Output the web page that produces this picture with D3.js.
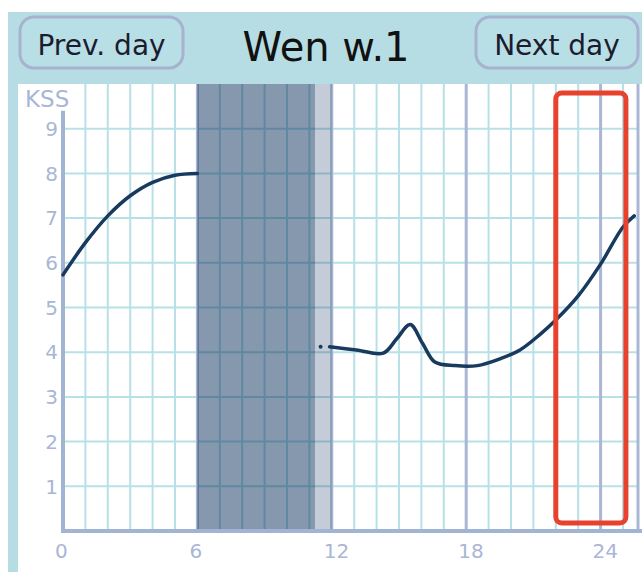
<!DOCTYPE html>
<html>
<head>
<meta charset="utf-8">
<script src="https://cdn.jsdelivr.net/npm/d3@7"></script>
<style>
    body { margin: 0; background: #fff; }
    svg { display: block; font-family: "DejaVu Sans", Verdana, sans-serif; }
    .grid { stroke: #b8e1e7; stroke-width: 2; }
    .grid-major { stroke: #a9b7d5; stroke-width: 3; }
    .tick-label { fill: #a9b6d6; font-size: 20px; }
</style>
</head>
<body>
<div id="chart"></div>
<script>
// KSS before sleep
var hoursA = [0, 1, 2, 3, 4, 5, 6];
var kssA = [5.73, 6.45, 7.05, 7.5, 7.8, 7.96, 8.0];

// KSS after waking
var hoursB = [11.9, 13.1, 14.3, 14.9, 15.5, 16.05, 16.6, 17.5, 18.5, 19.5, 20.4, 21.3, 22.0, 23.0, 24.0, 25.0, 25.5];
var kssB = [4.12, 4.05, 3.98, 4.3, 4.62, 4.2, 3.78, 3.70, 3.70, 3.85, 4.05, 4.40, 4.72, 5.26, 5.97, 6.8, 7.05];

// single point right after sleep
var wakeDot = [11.5, 4.12];

var sleepSpan = [6, 11.25];
var inertiaSpan = [11.25, 12];
var windowSpan = [22.0, 25.13];
var windowKss = [0.18, 9.8];

var xTicks = [0, 6, 12, 18, 24];
var yTicks = [1, 2, 3, 4, 5, 6, 7, 8, 9];
var hourLines = d3.range(1, 26);

var title = 'Wen w.1';
var prevLabel = 'Prev. day';
var nextLabel = 'Next day';
var yLabel = 'KSS';


function main(domSelector) {
    var width = 642;
    var height = 572;

    var svg = d3.select(domSelector).append('svg')
        .attr('width', width)
        .attr('height', height);

    var xScale = d3.scaleLinear().domain([0, 25.67]).range([63, 638]);
    var yScale = d3.scaleLinear().domain([0, 10]).range([531, 84]);

    // frame
    svg.append('rect')
        .attr('x', 8).attr('y', 12)
        .attr('width', width - 8).attr('height', 72)
        .attr('fill', '#b5dde3');
    svg.append('rect')
        .attr('x', 8).attr('y', 12)
        .attr('width', 10).attr('height', height - 12)
        .attr('fill', '#b5dde3');

    // header buttons
    var buttons = [
        {label: prevLabel, x: 20, w: 163},
        {label: nextLabel, x: 476, w: 162}
    ];
    var btn = svg.selectAll('g.button')
        .data(buttons)
        .enter()
        .append('g')
        .attr('class', 'button');
    btn.append('rect')
        .attr('x', function (d) { return d.x; })
        .attr('y', 17)
        .attr('width', function (d) { return d.w; })
        .attr('height', 51)
        .attr('rx', 14)
        .attr('fill', '#b8dfe5')
        .attr('stroke', '#a6b2d0')
        .attr('stroke-width', 3);
    btn.append('text')
        .attr('x', function (d) { return d.x + d.w / 2; })
        .attr('y', 55)
        .attr('text-anchor', 'middle')
        .attr('font-size', '28px')
        .attr('fill', '#1c1c30')
        .text(function (d) { return d.label; });

    svg.append('text')
        .attr('x', 326)
        .attr('y', 61)
        .attr('text-anchor', 'middle')
        .attr('font-size', '40px')
        .attr('fill', '#111')
        .text(title);

    // grid
    svg.selectAll('line.hgrid')
        .data(yTicks)
        .enter()
        .append('line')
        .attr('class', 'grid')
        .attr('x1', xScale(0)).attr('x2', xScale.range()[1])
        .attr('y1', function (d) { return yScale(d); })
        .attr('y2', function (d) { return yScale(d); });

    svg.selectAll('line.vgrid')
        .data(hourLines)
        .enter()
        .append('line')
        .attr('class', function (d) { return d % 6 === 0 ? 'grid-major' : 'grid'; })
        .attr('x1', function (d) { return xScale(d); })
        .attr('x2', function (d) { return xScale(d); })
        .attr('y1', yScale(10)).attr('y2', yScale(0));

    svg.append('line')
        .attr('class', 'grid-major')
        .attr('x1', xScale.range()[1]).attr('x2', xScale.range()[1])
        .attr('y1', yScale(10)).attr('y2', yScale(0));

    // sleep shading
    svg.append('rect')
        .attr('x', xScale(sleepSpan[0]))
        .attr('y', yScale(10))
        .attr('width', xScale(sleepSpan[1]) - xScale(sleepSpan[0]))
        .attr('height', yScale(0) - yScale(10))
        .attr('fill', 'rgb(0,40,84)')
        .attr('fill-opacity', 0.48);
    svg.append('rect')
        .attr('x', xScale(inertiaSpan[0]))
        .attr('y', yScale(10))
        .attr('width', xScale(inertiaSpan[1]) - xScale(inertiaSpan[0]))
        .attr('height', yScale(0) - yScale(10))
        .attr('fill', 'rgb(0,40,84)')
        .attr('fill-opacity', 0.23);

    // axes
    svg.append('line')
        .attr('x1', xScale(0)).attr('x2', xScale(0))
        .attr('y1', yScale(9.4)).attr('y2', yScale(0) + 2)
        .attr('stroke', '#a1b4d3').attr('stroke-width', 4);
    svg.append('line')
        .attr('x1', xScale(0) - 2).attr('x2', xScale.range()[1] + 4)
        .attr('y1', yScale(0)).attr('y2', yScale(0))
        .attr('stroke', '#a1b4d3').attr('stroke-width', 4);

    svg.selectAll('text.ylab')
        .data(yTicks)
        .enter()
        .append('text')
        .attr('class', 'tick-label')
        .attr('x', 58)
        .attr('y', function (d) { return yScale(d); })
        .attr('dy', '0.36em')
        .attr('text-anchor', 'end')
        .text(function (d) { return d; });

    svg.selectAll('text.xlab')
        .data(xTicks)
        .enter()
        .append('text')
        .attr('class', 'tick-label')
        .attr('x', function (d) { return xScale(d) - 8; })
        .attr('y', 558)
        .text(function (d) { return d; });

    svg.append('text')
        .attr('class', 'tick-label')
        .attr('x', 25)
        .attr('y', 107)
        .style('font-size', '23px')
        .text(yLabel);

    // KSS curves
    var line = d3.line()
        .x(function (d) { return xScale(d[0]); })
        .y(function (d) { return yScale(d[1]); })
        .curve(d3.curveCatmullRom.alpha(0.5));

    [d3.zip(hoursA, kssA), d3.zip(hoursB, kssB)].forEach(function (pts) {
        svg.append('path')
            .datum(pts)
            .attr('d', line)
            .attr('fill', 'none')
            .attr('stroke', '#173a5e')
            .attr('stroke-width', 3.5)
            .attr('stroke-linecap', 'round');
    });

    svg.append('circle')
        .attr('cx', xScale(wakeDot[0]))
        .attr('cy', yScale(wakeDot[1]))
        .attr('r', 2)
        .attr('fill', '#173a5e');

    // highlighted window
    svg.append('rect')
        .attr('x', xScale(windowSpan[0]))
        .attr('y', yScale(windowKss[1]))
        .attr('width', xScale(windowSpan[1]) - xScale(windowSpan[0]))
        .attr('height', yScale(windowKss[0]) - yScale(windowKss[1]))
        .attr('rx', 6)
        .attr('fill', 'none')
        .attr('stroke', '#e8412e')
        .attr('stroke-width', 5);
}

main('#chart');
</script>
</body>
</html>
